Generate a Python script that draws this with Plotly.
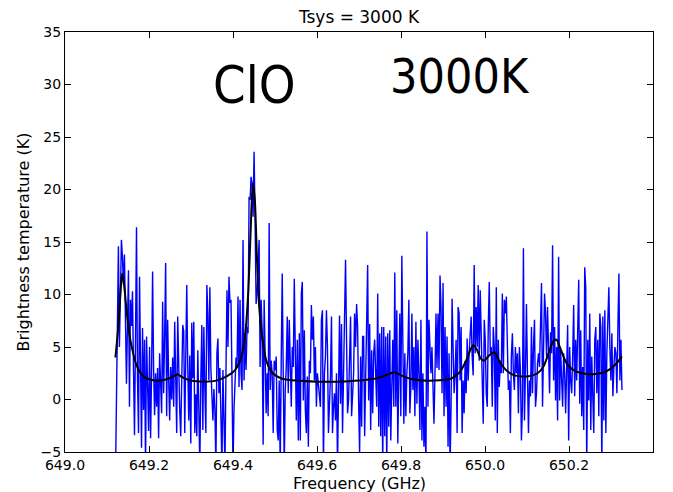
import numpy as np
import plotly.graph_objects as go

# Observed spectrum (K), one value per channel, 649.120 -> 650.326 GHz
tb_part1 = [-8.0, 2.0, 6.9, 14.6, 5.0, 9.0, 15.2, 13.6, 11.0, 13.8, 5.7, 1.5, 7.0, 12.3, -0.7,
            9.5, 7.0, 10.3, 3.0, -3.4, 5.7, 16.4, 2.0, -3.2, 11.7, 1.0, -4.6, 6.8, -1.0, 5.7,
            -6.5, 6.0, 1.5, -3.0, 5.0, -3.7, 2.5, 12.2, 3.0, -1.5, 2.5, -0.7, 3.0, -3.7, 4.4,
            0.8, -1.3, 9.3, 0.6, 6.0, 13.0, -1.6, 7.6, 2.0, -2.0, 3.1, 0.0, 4.0]
tb_part2 = [-0.7, 7.4, 2.0, -3.2, 7.9, 1.8, -1.0, -3.5, 2.0, 7.1, 6.5, -3.2, 4.1, 10.9, 3.0,
            -2.0, 4.2, -4.2, 7.3, 2.0, 7.4, -3.2, 0.5, -3.5, 4.7, -3.2, -6.5, 2.0, 7.1, -2.9,
            6.9, 1.0, -3.2, 10.9, 8.2, 1.8, 10.7, 3.0, -0.7, -2.0, 1.0, -1.0, -6.5, 4.4, 5.8,
            0.6, 3.0, -1.5, -6.5, 2.8, -1.0, -6.5, 2.5, 10.4, 5.0, 11.7, 9.2, 9.5, 2.0, -6.5,
            -1.0, 1.1]
tb_part3 = [4.0, 3.1, 9.8, 1.2, 9.5, 2.5, 0.9, 15.2, 1.8, 6.3, 2.8, 6.9, 6.3, 19.3, 19.0,
            21.2, 20.6, 17.4, 23.6, 17.1, 9.1, 10.1, 12.0, 15.2, 3.1, 9.5, 6.6, -4.3, 9.5, 2.8,
            -1.3, 2.5, -1.6, 16.8, 0.9, 3.7, 2.5, -3.2, 3.7, 2.8, 4.1, -2.9, -3.9, 1.8, -6.5,
            3.7, 12.0, 2.5, -6.5, 0.9, 3.1, 7.9, 0.6, 7.6, 2.5, -0.7, 5.0, 3.1, 11.5, 1.8,
            -2.0, 5.7, -3.9, 6.3]
tb_part4 = [-3.9, 10.1, 11.2, -0.1, 6.6, -1.0, -3.2, 2.2, -4.5, 3.7, 2.5, 9.0, 5.7, 7.9, 1.8,
            5.0, -0.7, 2.5, 1.2, 0.6, -0.7, 7.6, 8.5, -6.5, 2.5, 4.1, 8.5, 5.0, -3.2, -0.4,
            2.2, 7.9, -3.2, -0.7, 0.6, -2.0, 2.5, -6.5, 0.6, 8.0, -0.4, 7.2, -3.2, 2.8, 6.9,
            13.3, 5.7, -1.3, -0.1, 5.7, 7.9, -1.6, 1.2, 2.5, 8.2, 5.0, 9.1, 6.9, -0.1, -5.1,
            4.1, -2.6, 6.0]
tb_part5 = [6.0, -3.5, 2.8, 5.0, 12.8, -0.1, 7.2, -2.9, 4.7, -1.3, 4.4, 5.7, 2.5, -0.7, 10.1,
            -2.6, 6.3, -3.5, 6.9, -6.5, 6.9, -3.5, 6.0, -6.5, 6.3, -2.6, 6.6, -3.9, 1.2, 5.7,
            -0.7, 12.1, -0.7, 8.5, -4.2, 2.5, 8.2, -1.6, 13.7, 5.7, -2.3, 4.4, -1.6, 2.5, 4.4,
            9.5, -1.3, 1.2, 8.2, 0.9, 5.0, -1.6, 7.4, -0.4, 5.7, 2.5, -2.9, 7.6, -3.9, 2.5,
            -4.5, -0.7, -6.5, 16.0, -0.7]
tb_part6 = [7.6, 4.4, 2.5, 5.0, -0.1, -2.3, 2.5, 8.2, 3.0, 8.2, 2.8, 11.8, 8.8, 0.6, 11.1,
            -1.6, 6.9, -0.7, 6.0, -4.5, 4.4, -6.5, -0.7, 9.6, 5.0, 0.6, 2.5, 5.7, -3.2, 8.8,
            8.2, 1.8, 6.9, -3.2, 1.8, -1.3, 3.7, 0.6, 5.8, 1.8, 4.4, 6.9, 7.9, 4.1, 2.3,
            12.8, 4.4, 8.8, 5.0, 10.9, 3.7, 10.4, 5.0, 0.3, -2.3, 7.6, 5.7, 0.6, -0.7, 6.9,
            11.2, 4.4, 5.0, -0.7, 6.9]
tb_part7 = [5.0, -2.0, 10.7, -3.2, 5.7, 1.2, 3.7, 2.5, 10.1, 2.5, 9.5, 8.2, 9.8, 3.7, 0.9,
            1.8, -3.2, 4.1, 6.3, 2.5, 0.9, 5.0, 2.5, 4.4, -1.3, 5.0, 2.8, -3.9, -0.7, 14.4,
            -2.0, 2.5, 9.1, 2.5, -3.2, 1.8, 0.3, 6.9, 0.6, 5.0, 7.6, -0.7, 0.6, 3.4, 4.4,
            3.1, 6.9, 11.1, -0.7, 6.3, 10.1, 8.2, 4.1, 8.8, 3.7, 0.6, 6.4, 4.4, 14.7, 1.8,
            6.9, -0.1, 5.0, -2.0, 13.6]
tb_part8 = [-0.1, 4.7, 1.2, -0.7, 4.4, 2.5, -1.3, 5.0, 7.1, -3.9, 5.0, 1.8, 0.6, 4.1, 9.0,
            0.3, 5.7, 1.8, 6.3, 11.4, -0.4, 6.6, -1.6, 3.1, -2.9, 12.6, 10.7, -6.5, 5.7, -0.1,
            8.2, -2.9, 4.1, 0.6, -3.2, 5.7, 6.9, 0.6, 5.7, -1.6, 8.2, 6.9, -6.5, 7.9, -2.0,
            8.5, -3.2, 4.4, 8.8, 10.7, 5.0, 1.8, 6.3, 0.3, 3.1, 5.0, 4.4, 0.6, 6.9, 12.0,
            1.8, 5.7, 0.9]

# Channel axis of the spectrometer (GHz)
freq_start = 649.120
freq_stop = 650.326

# Fitted model spectrum (K)
model_freq = [649.120, 649.126, 649.131, 649.136, 649.141, 649.147, 649.153, 649.160, 649.170,
              649.182, 649.195, 649.215, 649.240, 649.258, 649.268, 649.280, 649.300, 649.330,
              649.360, 649.385, 649.405, 649.418, 649.428, 649.436, 649.442, 649.447, 649.452,
              649.457, 649.463, 649.470, 649.480, 649.495, 649.515, 649.550, 649.600, 649.650,
              649.700, 649.740, 649.770, 649.785, 649.800, 649.830, 649.880, 649.920, 649.940,
              649.955, 649.965, 649.972, 649.980, 649.990, 649.998, 650.010, 650.022, 650.035,
              650.050, 650.070, 650.100, 650.125, 650.140, 650.152, 650.162, 650.170, 650.180,
              650.195, 650.215, 650.250, 650.285, 650.310, 650.326]
model_tb = [4.0, 6.5, 9.5, 12.0, 10.8, 8.3, 6.3, 4.8, 3.3,
            2.4, 2.0, 1.8, 1.9, 2.2, 2.4, 2.1, 1.8, 1.7,
            1.8, 2.2, 2.8, 3.8, 5.8, 10.0, 16.0, 20.6, 19.0,
            13.5, 8.5, 5.8, 3.6, 2.5, 2.0, 1.8, 1.7, 1.7,
            1.8, 2.0, 2.4, 2.6, 2.3, 1.9, 1.8, 2.0, 2.6,
            3.7, 4.7, 5.2, 4.8, 3.9, 3.7, 4.2, 4.5, 3.6,
            2.8, 2.3, 2.2, 2.5, 3.2, 4.5, 5.5, 5.7, 4.8,
            3.4, 2.7, 2.4, 2.6, 3.3, 4.1]

x_ticks = [649.0, 649.2, 649.4, 649.6, 649.8, 650.0, 650.2, 650.4]
y_ticks = [-5, 0, 5, 10, 15, 20, 25, 30, 35]

tb = (tb_part1 + tb_part2 + tb_part3 + tb_part4 +
      tb_part5 + tb_part6 + tb_part7 + tb_part8)
freq = np.linspace(freq_start, freq_stop, len(tb))

fig = go.Figure()
fig.add_trace(go.Scatter(x=freq, y=tb, mode="lines",
                         line=dict(color="#0000ff", width=1.4), showlegend=False))
fig.add_trace(go.Scatter(x=model_freq, y=model_tb, mode="lines",
                         line=dict(color="#000000", width=2, shape="spline", smoothing=0.7),
                         showlegend=False))

axis_style = dict(ticks="inside", ticklen=6, tickwidth=1, tickcolor="black",
                  showline=True, linecolor="black", linewidth=1, mirror="ticks",
                  showgrid=False, zeroline=False, automargin=False,
                  tickfont=dict(family="DejaVu Sans", size=14, color="black"))

fig.update_xaxes(range=[649.0, 650.4], tickvals=x_ticks,
                 ticktext=[f"{v:.1f}" for v in x_ticks], **axis_style)
fig.update_yaxes(range=[-5, 35], tickvals=y_ticks,
                 title=dict(text="Brightness temperature (K)", standoff=6,
                            font=dict(family="DejaVu Sans", size=16, color="black")),
                 **axis_style)

# x-axis title placed just under the tick labels
fig.add_annotation(x=0.5, y=-0.075, xref="paper", yref="paper", yanchor="middle",
                   text="Frequency (GHz)", showarrow=False,
                   font=dict(family="DejaVu Sans", size=16, color="black"))

big_font = "DejaVu Sans Condensed, sans-serif"
fig.add_annotation(x=649.452, y=30.0, text="ClO", showarrow=False,
                   font=dict(family=big_font, size=52, color="black"))
fig.add_annotation(x=649.94, y=30.8, text="3000K", showarrow=False,
                   font=dict(family=big_font, size=48, color="black"))

fig.update_layout(
    width=673, height=492,
    margin=dict(l=65, r=20, t=32, b=40),
    paper_bgcolor="white", plot_bgcolor="white",
    title=dict(text="Tsys = 3000 K", x=0.5, xref="paper", y=1 - 17 / 492,
               yanchor="middle", font=dict(family="DejaVu Sans", size=17, color="black")),
)

fig.write_html("out.html", config={"displayModeBar": False})
